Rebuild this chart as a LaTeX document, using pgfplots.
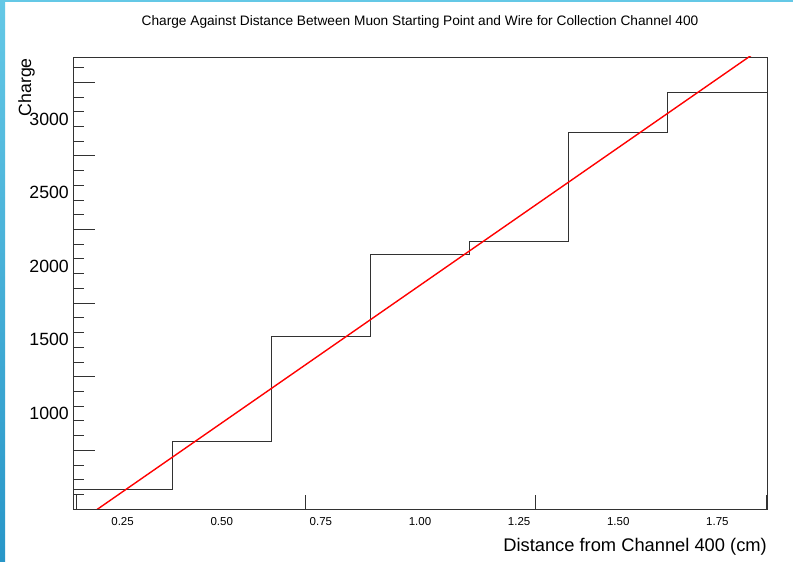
\documentclass[border=0pt]{standalone}
\usepackage{fontspec}
\setmainfont{Liberation Sans}
\usepackage{pgfplots}
\pgfplotsset{compat=1.18}
\definecolor{stripA}{RGB}{100,200,230}
\definecolor{stripB}{RGB}{40,150,200}
\definecolor{framegray}{RGB}{50,50,50}
\begin{document}
\begin{tikzpicture}
\useasboundingbox (0,0) rectangle (793pt,562pt);
\fill[white] (0,0) rectangle (793pt,562pt);
\shade[top color=stripA, bottom color=stripB] (0,0) rectangle (5pt,562pt);
\fill[stripA] (0,560pt) rectangle (793pt,562pt);
\begin{axis}[
  at={(73pt,53pt)}, anchor=south west,
  width=694pt, height=452pt, scale only axis,
  xmin=0.125, xmax=1.875, ymin=351, ymax=3422,
  axis line style={framegray, line width=0.9pt},
  tick pos=left, tick align=inside,
  /pgf/number format/assume math mode=true,
  xtick={0.25,0.5,0.75,1.0,1.25,1.5,1.75},
  xticklabels={0.25,0.50,0.75,1.00,1.25,1.50,1.75},
  ytick={1000,1500,2000,2500,3000},
  yticklabels={1000,1500,2000,2500,3000},
  major tick length=0pt,
  minor ytick={450,550,...,3350},
  minor tick length=11pt,
  extra x ticks={0.1326,0.710,1.290,1.8725},
  extra x tick labels={},
  extra x tick style={major tick length=14pt},
  extra y ticks={750,1250,1750,2250,2750,3250},
  extra y tick labels={},
  extra y tick style={major tick length=22pt},
  every tick/.style={framegray, line width=0.9pt},
  xticklabel style={font=\fontsize{11.5}{13}\selectfont, inner sep=0pt, anchor=north, yshift=-8pt},
  yticklabel style={font=\fontsize{17.7}{20}\selectfont, inner sep=0pt, anchor=east, xshift=-4pt},
  title={Charge Against Distance Between Muon Starting Point and Wire for Collection Channel 400},
  title style={font=\fontsize{13.7}{16}\selectfont, inner sep=0pt, at={(axis description cs:0.5,1.0575)}, anchor=base},
  xlabel={Distance from Channel 400 (cm)},
  xlabel style={font=\fontsize{18.3}{21}\selectfont, inner sep=0pt, at={(axis description cs:1,-0.0951)}, anchor=base east},
  ylabel={Charge},
  ylabel style={font=\fontsize{17.7}{20}\selectfont, inner sep=0pt, at={(axis description cs:-0.0605,0.9978)}, anchor=base east, rotate=0},
  clip=true,
]
\addplot[const plot mark left, draw=framegray, line width=0.9pt, mark=none] coordinates {
  (0.125,351) (0.125,487) (0.375,811) (0.625,1520) (0.875,2081) (1.125,2167) (1.375,2907) (1.625,3184) (1.875,3184)
};
\addplot[red, line width=1.4pt, mark=none] coordinates {
  (0.15,281) (1.85,3461)
};
\end{axis}
\end{tikzpicture}
\end{document}
